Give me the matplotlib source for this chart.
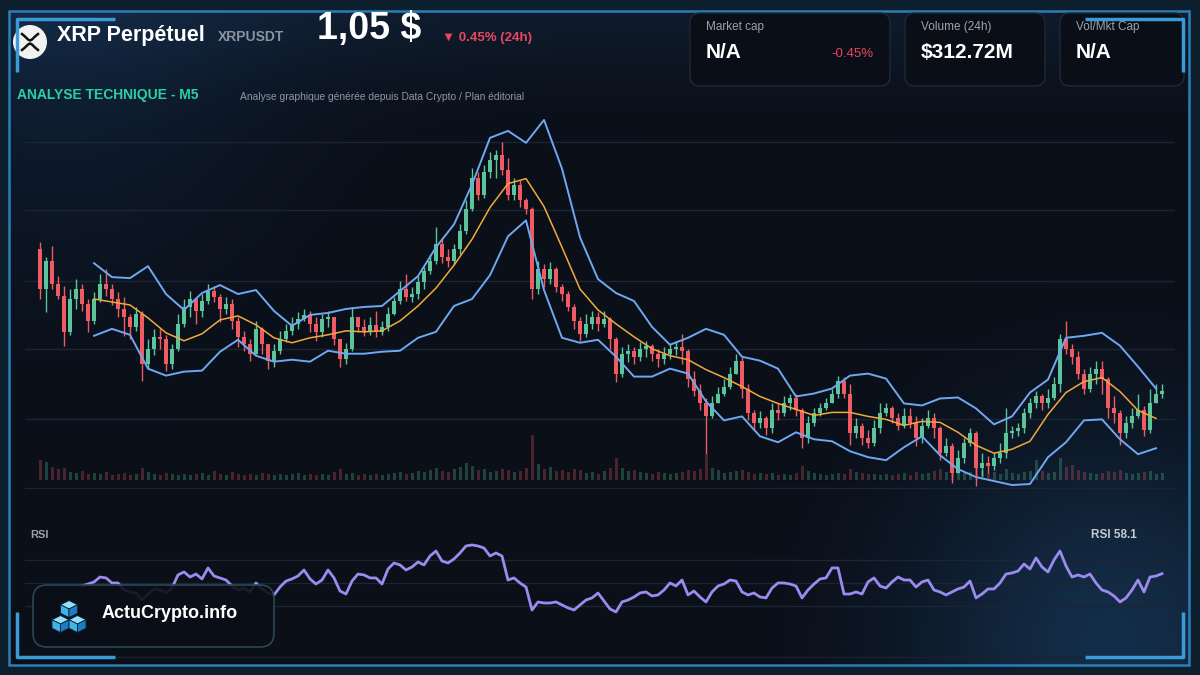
import numpy as np
import matplotlib
matplotlib.use("Agg")
import matplotlib.pyplot as plt
from matplotlib.patches import FancyBboxPatch, Rectangle, Circle, Polygon

FONT = ['Liberation Sans', 'DejaVu Sans']
plt.rcParams['font.family'] = FONT

# ---- price data (XRPUSDT, M5) ----
first_open = 1.0640
closes = [1.0600, 1.0628, 1.0605, 1.0593, 1.0557, 1.0590, 1.0600, 1.0585, 1.0568, 1.0590,
          1.0605, 1.0600, 1.0590, 1.0580, 1.0572, 1.0562, 1.0575, 1.0525, 1.0540, 1.0552,
          1.0550, 1.0525, 1.0540, 1.0565, 1.0582, 1.0590, 1.0578, 1.0588, 1.0598, 1.0592,
          1.0580, 1.0585, 1.0568, 1.0552, 1.0545, 1.0535, 1.0560, 1.0545, 1.0528, 1.0538,
          1.0550, 1.0558, 1.0565, 1.0570, 1.0574, 1.0565, 1.0557, 1.0570, 1.0572, 1.0550,
          1.0530, 1.0540, 1.0572, 1.0562, 1.0558, 1.0564, 1.0557, 1.0562, 1.0575, 1.0588,
          1.0600, 1.0592, 1.0595, 1.0607, 1.0618, 1.0628, 1.0645, 1.0632, 1.0628, 1.0640,
          1.0658, 1.0680, 1.0712, 1.0695, 1.0718, 1.0730, 1.0735, 1.0720, 1.0695, 1.0705,
          1.0690, 1.0680, 1.0600, 1.0620, 1.0610, 1.0620, 1.0602, 1.0595, 1.0582, 1.0568,
          1.0555, 1.0565, 1.0572, 1.0565, 1.0570, 1.0550, 1.0515, 1.0535, 1.0538, 1.0532,
          1.0540, 1.0543, 1.0535, 1.0530, 1.0535, 1.0540, 1.0542, 1.0538, 1.0510, 1.0498,
          1.0485, 1.0472, 1.0485, 1.0495, 1.0502, 1.0515, 1.0528, 1.0500, 1.0475, 1.0465,
          1.0470, 1.0460, 1.0478, 1.0475, 1.0485, 1.0490, 1.0478, 1.0450, 1.0465, 1.0475,
          1.0480, 1.0485, 1.0495, 1.0508, 1.0495, 1.0455, 1.0462, 1.0450, 1.0445, 1.0460,
          1.0475, 1.0480, 1.0470, 1.0462, 1.0472, 1.0465, 1.0450, 1.0462, 1.0470, 1.0460,
          1.0435, 1.0442, 1.0415, 1.0430, 1.0445, 1.0455, 1.0420, 1.0425, 1.0422, 1.0430,
          1.0435, 1.0455, 1.0457, 1.0460, 1.0475, 1.0485, 1.0492, 1.0485, 1.0490, 1.0505,
          1.0550, 1.0540, 1.0532, 1.0515, 1.0500, 1.0515, 1.0520, 1.0510, 1.0480, 1.0475,
          1.0455, 1.0465, 1.0472, 1.0478, 1.0458, 1.0485, 1.0495, 1.0498]
highs = [1.0647, 1.0632, 1.0643, 1.0613, 1.0603, 1.0600, 1.0610, 1.0605, 1.0590, 1.0597,
         1.0615, 1.0620, 1.0605, 1.0597, 1.0592, 1.0575, 1.0582, 1.0578, 1.0550, 1.0560,
         1.0560, 1.0554, 1.0545, 1.0575, 1.0590, 1.0598, 1.0592, 1.0595, 1.0605, 1.0603,
         1.0595, 1.0592, 1.0590, 1.0572, 1.0558, 1.0550, 1.0568, 1.0562, 1.0545, 1.0545,
         1.0558, 1.0565, 1.0572, 1.0577, 1.0580, 1.0578, 1.0572, 1.0575, 1.0578, 1.0572,
         1.0550, 1.0546, 1.0582, 1.0572, 1.0570, 1.0572, 1.0578, 1.0568, 1.0582, 1.0592,
         1.0608, 1.0615, 1.0602, 1.0613, 1.0622, 1.0635, 1.0662, 1.0650, 1.0640, 1.0645,
         1.0665, 1.0690, 1.0722, 1.0718, 1.0725, 1.0738, 1.0740, 1.0748, 1.0732, 1.0712,
         1.0710, 1.0692, 1.0682, 1.0628, 1.0625, 1.0627, 1.0622, 1.0605, 1.0598, 1.0585,
         1.0572, 1.0575, 1.0578, 1.0577, 1.0578, 1.0572, 1.0552, 1.0542, 1.0545, 1.0542,
         1.0547, 1.0548, 1.0545, 1.0540, 1.0542, 1.0545, 1.0548, 1.0555, 1.0540, 1.0518,
         1.0505, 1.0490, 1.0492, 1.0502, 1.0510, 1.0522, 1.0535, 1.0532, 1.0505, 1.0478,
         1.0477, 1.0472, 1.0485, 1.0485, 1.0492, 1.0495, 1.0495, 1.0480, 1.0472, 1.0480,
         1.0485, 1.0490, 1.0500, 1.0513, 1.0512, 1.0505, 1.0470, 1.0465, 1.0458, 1.0468,
         1.0485, 1.0485, 1.0482, 1.0475, 1.0480, 1.0480, 1.0472, 1.0470, 1.0478, 1.0475,
         1.0462, 1.0450, 1.0445, 1.0438, 1.0450, 1.0460, 1.0457, 1.0435, 1.0432, 1.0435,
         1.0445, 1.0480, 1.0462, 1.0465, 1.0480, 1.0490, 1.0498, 1.0495, 1.0500, 1.0512,
         1.0555, 1.0568, 1.0545, 1.0538, 1.0520, 1.0522, 1.0528, 1.0528, 1.0512, 1.0492,
         1.0478, 1.0472, 1.0480, 1.0495, 1.0482, 1.0500, 1.0505, 1.0505]
lows = [1.0590, 1.0577, 1.0600, 1.0590, 1.0543, 1.0554, 1.0580, 1.0578, 1.0557, 1.0565,
        1.0587, 1.0593, 1.0584, 1.0572, 1.0553, 1.0550, 1.0558, 1.0508, 1.0520, 1.0534,
        1.0540, 1.0518, 1.0520, 1.0538, 1.0562, 1.0572, 1.0565, 1.0572, 1.0585, 1.0587,
        1.0567, 1.0575, 1.0560, 1.0542, 1.0538, 1.0528, 1.0542, 1.0535, 1.0520, 1.0522,
        1.0535, 1.0547, 1.0554, 1.0560, 1.0568, 1.0557, 1.0548, 1.0552, 1.0562, 1.0544,
        1.0522, 1.0525, 1.0538, 1.0557, 1.0553, 1.0554, 1.0552, 1.0554, 1.0558, 1.0574,
        1.0585, 1.0588, 1.0587, 1.0590, 1.0600, 1.0615, 1.0625, 1.0626, 1.0622, 1.0624,
        1.0635, 1.0655, 1.0678, 1.0690, 1.0692, 1.0712, 1.0712, 1.0715, 1.0690, 1.0690,
        1.0682, 1.0675, 1.0590, 1.0595, 1.0602, 1.0605, 1.0597, 1.0588, 1.0578, 1.0560,
        1.0548, 1.0552, 1.0560, 1.0558, 1.0562, 1.0540, 1.0507, 1.0512, 1.0527, 1.0525,
        1.0528, 1.0532, 1.0528, 1.0522, 1.0525, 1.0530, 1.0534, 1.0525, 1.0502, 1.0492,
        1.0478, 1.0434, 1.0470, 1.0485, 1.0492, 1.0500, 1.0518, 1.0490, 1.0468, 1.0458,
        1.0460, 1.0453, 1.0455, 1.0468, 1.0472, 1.0478, 1.0472, 1.0440, 1.0445, 1.0462,
        1.0472, 1.0478, 1.0485, 1.0490, 1.0490, 1.0443, 1.0450, 1.0443, 1.0440, 1.0442,
        1.0455, 1.0472, 1.0465, 1.0458, 1.0460, 1.0460, 1.0442, 1.0445, 1.0460, 1.0450,
        1.0428, 1.0432, 1.0405, 1.0415, 1.0425, 1.0442, 1.0402, 1.0412, 1.0415, 1.0418,
        1.0425, 1.0430, 1.0450, 1.0452, 1.0455, 1.0470, 1.0480, 1.0478, 1.0480, 1.0488,
        1.0497, 1.0535, 1.0525, 1.0510, 1.0495, 1.0497, 1.0505, 1.0495, 1.0470, 1.0465,
        1.0443, 1.0450, 1.0460, 1.0470, 1.0452, 1.0455, 1.0485, 1.0490]
volumes = [200, 180, 130, 110, 120, 80, 70, 90, 60, 70, 60, 80, 50, 60, 70, 50, 60, 120, 80, 60,
           50, 70, 60, 50, 60, 50, 60, 70, 50, 90, 60, 50, 80, 60, 50, 60, 50, 70, 60, 50,
           60, 50, 60, 70, 50, 60, 50, 60, 50, 80, 110, 60, 70, 50, 60, 50, 60, 50, 60, 70,
           80, 60, 70, 90, 80, 100, 120, 90, 80, 110, 130, 170, 140, 100, 110, 80, 90, 110, 100, 80,
           90, 120, 450, 160, 110, 130, 90, 100, 80, 110, 100, 70, 80, 60, 90, 120, 220, 120, 90, 100,
           80, 70, 60, 80, 70, 60, 70, 80, 100, 90, 110, 250, 120, 100, 70, 80, 90, 100, 80, 60,
           70, 60, 70, 50, 60, 50, 70, 140, 90, 70, 60, 50, 60, 70, 60, 110, 80, 70, 60, 60,
           50, 60, 50, 60, 70, 50, 80, 60, 70, 90, 110, 80, 120, 90, 70, 80, 130, 90, 70, 80,
           60, 110, 70, 60, 80, 90, 200, 90, 70, 80, 220, 130, 150, 100, 80, 70, 60, 70, 90, 80,
           100, 70, 60, 70, 80, 90, 60, 70]

# Bollinger bands (20) and SMA, read every 3rd candle from candle 9
bb_upper = [1.0626, 1.0612, 1.0611, 1.0623, 1.0595, 1.0579, 1.0596, 1.0604, 1.0595, 1.0599,
            1.0578, 1.0563, 1.0574, 1.0576, 1.0580, 1.0582, 1.0583, 1.0598, 1.0613, 1.0642,
            1.0665, 1.0705, 1.0752, 1.0759, 1.0747, 1.0770, 1.0721, 1.0652, 1.0610, 1.0596,
            1.0588, 1.0562, 1.0544, 1.0551, 1.0560, 1.0554, 1.0532, 1.0528, 1.0520, 1.0492,
            1.0495, 1.0500, 1.0513, 1.0515, 1.0510, 1.0485, 1.0483, 1.0490, 1.0491, 1.0480,
            1.0464, 1.0472, 1.0496, 1.0509, 1.0551, 1.0553, 1.0556, 1.0543, 1.0522, 1.0500]
bb_mid = [1.0590, 1.0587, 1.0584, 1.0571, 1.0556, 1.0548, 1.0555, 1.0569, 1.0573, 1.0564,
          1.0551, 1.0546, 1.0551, 1.0554, 1.0558, 1.0557, 1.0558, 1.0568, 1.0583, 1.0601,
          1.0624, 1.0650, 1.0682, 1.0706, 1.0711, 1.0683, 1.0642, 1.0600, 1.0579, 1.0565,
          1.0552, 1.0540, 1.0533, 1.0529, 1.0519, 1.0511, 1.0502, 1.0492, 1.0485, 1.0479,
          1.0473, 1.0476, 1.0476, 1.0472, 1.0469, 1.0463, 1.0467, 1.0466, 1.0456, 1.0443,
          1.0435, 1.0439, 1.0447, 1.0474, 1.0496, 1.0507, 1.0511, 1.0497, 1.0478, 1.0470]
bb_lower = [1.0553, 1.0560, 1.0554, 1.0520, 1.0513, 1.0517, 1.0518, 1.0537, 1.0549, 1.0533,
            1.0527, 1.0529, 1.0527, 1.0538, 1.0535, 1.0535, 1.0537, 1.0538, 1.0551, 1.0557,
            1.0583, 1.0590, 1.0614, 1.0653, 1.0669, 1.0599, 1.0551, 1.0546, 1.0549, 1.0532,
            1.0512, 1.0512, 1.0520, 1.0515, 1.0487, 1.0468, 1.0472, 1.0452, 1.0446, 1.0456,
            1.0449, 1.0447, 1.0437, 1.0431, 1.0428, 1.0441, 1.0452, 1.0433, 1.0419, 1.0411,
            1.0407, 1.0403, 1.0404, 1.0431, 1.0446, 1.0468, 1.0469, 1.0449, 1.0434, 1.0440]

# RSI(14) from candle 7 to the last one
rsi = [47.4, 49.1, 50.9, 55.2, 54.4, 50.0, 50.0, 43.9, 42.2, 41.3,
       35.2, 40.4, 44.8, 43.9, 41.3, 45.6, 57.0, 59.6, 55.2, 57.8,
       53.5, 63.1, 56.1, 54.4, 52.6, 47.4, 43.9, 45.6, 42.2, 50.0,
       44.8, 41.3, 39.6, 46.5, 51.7, 53.5, 56.1, 61.3, 53.5, 49.1,
       52.6, 61.3, 54.4, 43.0, 40.4, 51.7, 57.8, 57.0, 54.4, 54.4,
       49.1, 62.2, 67.4, 65.7, 61.3, 63.9, 68.3, 65.7, 73.5, 77.8,
       69.1, 67.4, 70.9, 76.1, 82.2, 83.1, 82.2, 80.4, 73.5, 76.1,
       73.5, 52.6, 54.4, 50.0, 46.5, 26.5, 33.5, 32.6, 32.6, 33.5,
       30.9, 28.3, 26.5, 30.9, 35.2, 37.0, 41.3, 34.3, 27.4, 24.8,
       33.5, 35.2, 37.8, 41.3, 42.2, 38.7, 39.6, 43.9, 50.0, 47.4,
       52.6, 39.6, 43.0, 37.8, 33.5, 42.2, 47.4, 49.1, 52.6, 51.7,
       42.2, 39.6, 41.3, 37.8, 37.0, 45.6, 50.0, 50.0, 49.1, 47.4,
       37.0, 43.9, 49.1, 53.5, 54.4, 63.1, 63.1, 40.4, 40.4, 42.2,
       40.4, 50.9, 54.4, 47.4, 45.6, 50.9, 55.2, 52.6, 52.6, 46.5,
       50.9, 52.6, 43.9, 42.2, 39.6, 42.2, 44.8, 46.5, 51.7, 37.0,
       40.4, 44.8, 44.8, 50.0, 57.8, 58.7, 60.4, 66.5, 62.2, 71.8,
       63.9, 59.6, 70.0, 77.8, 64.8, 55.2, 57.0, 55.2, 57.8, 50.0,
       43.9, 42.2, 38.7, 33.5, 37.0, 43.9, 52.6, 42.2, 55.2, 56.1,
       58.1]

grid_prices = [1.0748, 1.0679, 1.0608, 1.0540, 1.0469, 1.0400]
rsi_levels = [70, 50, 30]

GREEN = '#5cc49a'
RED = '#ee5b62'
BAND = '#6fa8f2'
MA = '#f2a93b'
W, H = 1200, 675

fig = plt.figure(figsize=(12, 6.75), dpi=100)
fig.patch.set_facecolor('#0a0f18')


def frac(x0, y0, x1, y1):
    # pixel box -> figure fraction rect
    return [x0 / W, 1 - y1 / H, (x1 - x0) / W, (y1 - y0) / H]


# background
bg = fig.add_axes([0, 0, 1, 1], zorder=0)
yy, xx = np.mgrid[0:H, 0:W]
img = np.zeros((H, W, 3))
img[:] = [10, 15, 24]
img += np.exp(-(yy / 80.0) ** 2)[..., None] * np.array([5, 12, 20])
img += np.exp(-((xx - 1110) ** 2 + (yy - 640) ** 2) / (2 * 140.0 ** 2))[..., None] * np.array([10, 30, 48])
img += np.exp(-((xx - 60) ** 2 + (yy - 40) ** 2) / (2 * 160.0 ** 2))[..., None] * np.array([4, 14, 24])
outside = (xx < 9) | (xx > 1189) | (yy < 11) | (yy > 665)
img[outside] = [13, 30, 45]
bg.imshow(np.clip(img, 0, 255).astype(np.uint8), extent=(0, W, H, 0), aspect='auto')
bg.set_xlim(0, W)
bg.set_ylim(H, 0)
bg.axis('off')

# ---- price panel ----
n = len(closes)
idx = np.arange(n)
closes_a = np.array(closes)
opens_a = np.concatenate([[first_open], closes_a[:-1]])
highs_a = np.maximum(np.array(highs), np.maximum(opens_a, closes_a))
lows_a = np.minimum(np.array(lows), np.minimum(opens_a, closes_a))
up = closes_a >= opens_a
cols = np.where(up, GREEN, RED)

xlim = ((25 - 40) / 6.0, (1175 - 40) / 6.0)

ax = fig.add_axes(frac(25, 110, 1175, 490), zorder=1)
ax.set_facecolor('none')
for g in grid_prices:
    ax.axhline(g, color='#1b2533', lw=1, zorder=0)
ax.vlines(idx, lows_a, highs_a, colors=cols, lw=1, zorder=2)
body = np.maximum(np.abs(closes_a - opens_a), 0.00008)
ax.bar(idx, body, bottom=np.minimum(opens_a, closes_a), width=0.55, color=cols, zorder=2)
band_idx = np.arange(9, 187, 3)
ax.plot(band_idx, bb_upper, color=BAND, lw=1.4, zorder=3, solid_joinstyle='round')
ax.plot(band_idx, bb_lower, color=BAND, lw=1.4, zorder=3, solid_joinstyle='round')
ax.plot(band_idx, bb_mid, color=MA, lw=1.1, zorder=3, solid_joinstyle='round')
ax.set_xlim(*xlim)
ax.set_ylim(1.0398, 1.0780)
ax.axis('off')

# volume
vax = fig.add_axes(frac(25, 420, 1175, 480), zorder=1)
vax.set_facecolor('none')
vax.bar(idx, volumes, width=0.5, color=cols, alpha=0.28)
vax.set_xlim(*xlim)
vax.set_ylim(0, 600)
vax.axis('off')

# RSI
rax = fig.add_axes(frac(25, 530, 1175, 640), zorder=1)
rax.set_facecolor('none')
for lv in rsi_levels:
    rax.axhline(lv, color='#1b2533', lw=1)
rax.plot(np.arange(n - len(rsi), n), rsi, color='#9b8af0', lw=2.0)
rax.set_xlim(*xlim)
rax.set_ylim(0.4, 96.1)
rax.axis('off')

# ---- overlay: frame, header, cards, logo ----
ov = fig.add_axes([0, 0, 1, 1], zorder=2)
ov.set_facecolor('none')
ov.set_xlim(0, W)
ov.set_ylim(H, 0)
ov.axis('off')

ov.add_patch(Rectangle((9, 11), 1180, 654, fill=False, ec='#2a7fb9', lw=1.8))
ov.plot([25, 1175], [657, 657], color='#19222e', lw=1)
acc = dict(color='#3a9bd8', lw=2.5, solid_capstyle='butt')
ov.plot([115, 17, 17], [19, 19, 72], **acc)
ov.plot([1085, 1183, 1183], [19, 19, 72], **acc)
ov.plot([17, 17, 115], [612, 657, 657], **acc)
ov.plot([1183, 1183, 1085], [612, 657, 657], **acc)

# XRP logo
ov.add_patch(Circle((30, 42), 17, fc='#f2f2f2', ec='none'))
ov.plot([22, 25, 28, 30, 32, 35, 38], [34, 36.5, 39.5, 40.5, 39.5, 36.5, 34], color='#111', lw=1.8)
ov.plot([22, 25, 28, 30, 32, 35, 38], [50, 47.5, 44.5, 43.5, 44.5, 47.5, 50], color='#111', lw=1.8)

ov.text(57, 36, 'XRP Perpétuel', color='white', fontsize=15.5, fontweight='bold', va='center', ha='left')
ov.text(218, 37, 'XRPUSDT', color='#8a93a0', fontsize=10, fontweight='bold', va='center', ha='left')
ov.text(317, 29, '1,05 $', color='white', fontsize=27, fontweight='bold', va='center', ha='left')
ov.text(442, 38, '▼ 0.45% (24h)', color='#e8475f', fontsize=9.5, fontweight='bold', va='center', ha='left')
ov.text(17, 95, 'ANALYSE TECHNIQUE - M5', color='#2bcfa3', fontsize=10, fontweight='bold', va='center', ha='left')
ov.text(240, 97, 'Analyse graphique générée depuis Data Crypto / Plan éditorial', color='#8e96a3',
        fontsize=7.4, va='center', ha='left')

cards = [(690, 890, 'Market cap', 'N/A'), (905, 1045, 'Volume (24h)', '$312.72M'),
         (1060, 1184, 'Vol/Mkt Cap', 'N/A')]
for x0, x1, lab, val in cards:
    ov.add_patch(FancyBboxPatch((x0, 13), x1 - x0, 73, boxstyle='round,pad=0,rounding_size=10',
                                fc='#0a0f17', ec='#1f2935', lw=1))
    ov.text(x0 + 16, 27, lab, color='#9aa3ad', fontsize=8.5, va='center', ha='left')
    ov.text(x0 + 16, 53, val, color='white', fontsize=15, fontweight='bold', va='center', ha='left')
ov.text(874, 54, '-0.45%', color='#e8475f', fontsize=9.5, va='center', ha='right')

ov.text(30, 535, 'RSI', color='#9aa3ad', fontsize=8, fontweight='bold', va='center', ha='left')
ov.text(1137, 535, 'RSI 58.1', color='#c5cbd3', fontsize=8.5, fontweight='bold', va='center', ha='right')

# ActuCrypto badge
ov.add_patch(FancyBboxPatch((33, 585), 241, 62, boxstyle='round,pad=0,rounding_size=14',
                            fc=(0.04, 0.06, 0.09, 0.9), ec='#2b4656', lw=1.2))


def cube(cx, cy, w):
    top = [(cx, cy - w), (cx + w, cy - w / 2), (cx, cy), (cx - w, cy - w / 2)]
    left = [(cx - w, cy - w / 2), (cx, cy), (cx, cy + w), (cx - w, cy + w / 2)]
    right = [(cx, cy), (cx + w, cy - w / 2), (cx + w, cy + w / 2), (cx, cy + w)]
    for pts, c in ((top, '#8fe0f8'), (left, '#3fb2e8'), (right, '#1e7cc4')):
        ov.add_patch(Polygon(pts, closed=True, fc=c, ec='#0a2030', lw=0.6))


cube(69, 609, 8.5)
cube(60.5, 624, 8.5)
cube(77.5, 624, 8.5)
ov.text(102, 614, 'ActuCrypto.info', color='white', fontsize=13, fontweight='bold', va='center', ha='left')

fig.savefig('out.png', dpi=100, facecolor=fig.get_facecolor())
